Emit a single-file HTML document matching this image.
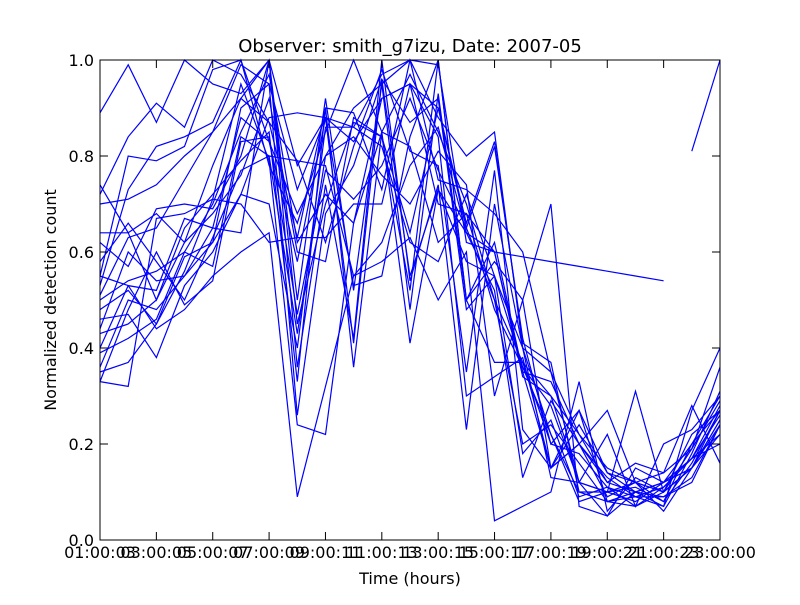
<!DOCTYPE html>
<html><head><meta charset="utf-8"><style>
body{margin:0;background:#fff;font-family:"Liberation Sans","DejaVu Sans",sans-serif}
svg text{font-family:"DejaVu Sans","Liberation Sans",sans-serif}
</style></head><body>
<svg id="chart" width="800" height="600" viewBox="0 0 800 600">
<rect width="800" height="600" fill="#fff"/>
<text x="410" y="52" font-size="18" text-anchor="middle">Observer: smith_g7izu, Date: 2007-05</text>
<g id="series"></g>
<rect x="100" y="60" width="620" height="480" fill="none" stroke="#000" stroke-width="1"/>
<g id="axes"></g>
<text x="410" y="584" font-size="16" text-anchor="middle">Time (hours)</text>
<text transform="translate(56,300) rotate(-90)" font-size="16" text-anchor="middle">Normalized detection count</text>
</svg>
<script>
const hours = [1,2,3,4,5,6,7,8,9,10,11,12,13,14,15,16,17,18,19,20,21,22,23];
const xTickHours = [1,3,5,7,9,11,13,15,17,19,21,23];
const xTickLabels = ["01:00:03","03:00:05","05:00:07","07:00:09","09:00:11","11:00:13","13:00:15","15:00:17","17:00:19","19:00:21","21:00:23","23:00:00"];
const yTicks = [0,0.2,0.4,0.6,0.8,1.0];
const yTickLabels = ["0.0","0.2","0.4","0.6","0.8","1.0"];
const s1 = [0.89,0.99,0.87,1.0,0.95,0.93,1.0,0.78,0.88,0.86,0.97,1.0,0.99,0.62,0.6,0.59,0.58,0.57,0.56,0.55,0.54,null,null];
const s2 = [0.72,0.84,0.91,0.86,1.0,0.97,0.87,0.63,0.9,0.89,0.73,1.0,0.88,0.8,0.85,0.4,0.35,0.12,0.1,0.12,0.08,0.16,0.27];
const s3 = [0.55,0.8,0.79,0.82,0.98,1.0,0.78,0.66,0.85,1.0,0.85,0.97,0.85,0.7,0.5,0.37,0.3,0.22,0.15,0.12,0.1,0.15,0.25];
const s4 = [0.53,0.73,0.82,0.84,0.87,1.0,0.83,0.68,0.8,0.9,0.95,1.0,0.75,0.73,0.68,0.6,0.35,0.22,0.12,0.1,0.09,0.13,0.24];
const s5 = [0.7,0.71,0.74,0.8,0.85,0.99,0.95,0.73,0.88,0.83,0.92,0.95,0.9,0.65,0.82,0.42,0.2,0.18,0.11,0.09,0.11,0.17,0.28];
const s6 = [0.64,0.64,0.68,0.62,0.78,0.92,1.0,0.5,0.92,0.52,0.95,0.48,0.93,0.5,0.58,0.5,0.15,0.24,0.14,0.1,0.12,0.2,0.3];
const s7 = [0.62,0.57,0.69,0.7,0.69,0.8,1.0,0.45,0.7,0.87,0.84,0.52,1.0,0.5,0.62,0.35,0.33,0.2,0.27,0.12,0.1,0.15,0.25];
const s8 = [0.5,0.54,0.56,0.6,0.7,0.85,0.97,0.62,0.72,0.66,0.85,0.82,0.62,0.68,0.48,0.36,0.28,0.12,0.1,0.08,0.12,0.17,0.26];
const s9 = [0.44,0.6,0.54,0.55,0.65,0.88,0.83,0.58,0.88,0.41,0.96,0.55,0.73,0.58,0.55,0.4,0.22,0.1,0.08,0.07,0.11,0.17,0.22];
const s10 = [0.4,0.53,0.52,0.67,0.65,0.64,1.0,0.36,0.74,0.42,1.0,0.54,0.74,0.23,0.7,0.4,0.13,0.12,0.05,0.15,0.12,0.17,0.2];
const s11 = [0.36,0.5,0.48,0.55,0.62,0.9,0.95,0.26,0.68,0.78,0.96,0.87,0.92,0.48,0.55,0.36,0.22,0.08,0.1,0.11,0.08,0.2,0.27];
const s12 = [0.33,0.32,0.67,0.68,0.71,0.95,0.79,0.24,0.22,0.66,0.92,0.95,0.7,0.68,0.6,0.35,0.15,0.2,0.13,0.09,0.09,0.12,0.24];
const s13 = [0.46,0.47,0.38,0.53,0.6,0.72,0.88,0.89,0.88,0.53,0.55,0.84,1.0,0.5,0.37,0.37,0.2,0.27,0.14,0.12,0.14,0.19,0.29];
const s14 = [0.55,0.53,0.44,0.48,0.55,0.6,0.64,0.09,0.32,0.55,0.58,0.63,0.5,0.6,0.04,0.07,0.1,0.33,0.06,0.13,0.1,0.22,0.27];
const s15 = [0.43,0.45,0.5,0.62,0.68,0.76,0.92,0.6,0.58,0.88,0.84,0.64,0.9,0.66,0.83,0.41,0.37,0.1,0.1,0.31,0.1,0.15,0.24];
const s16 = [0.48,0.52,0.45,0.56,0.71,0.7,0.62,0.63,0.63,0.7,0.7,0.95,0.84,0.3,0.34,0.38,0.15,0.27,0.08,0.1,0.12,0.15,0.27];
const s17 = [0.39,0.42,0.46,0.6,0.57,0.84,0.8,0.79,0.78,0.55,0.62,0.78,0.86,0.64,0.52,0.13,0.29,0.2,0.12,0.16,0.14,0.28,0.16];
const s18 = [0.58,0.66,0.58,0.5,0.63,0.77,0.8,0.43,0.8,0.84,0.76,0.7,0.81,0.74,0.3,0.5,0.7,0.07,0.05,0.1,0.07,0.27,0.4];
const s19 = [0.35,0.37,0.45,0.59,0.62,0.72,0.7,0.4,0.86,0.86,0.82,0.62,0.58,0.72,0.55,0.18,0.25,0.09,0.11,0.07,0.1,0.19,0.36];
const s20 = [0.33,0.48,0.6,0.49,0.54,0.83,0.84,0.47,0.77,0.71,0.78,0.92,0.77,0.65,0.5,0.2,0.24,0.16,0.08,0.09,0.07,0.18,0.31];
const s21 = [0.74,0.64,0.5,0.65,0.72,0.79,0.85,0.33,0.9,0.36,0.85,0.41,0.73,0.64,0.6,0.34,0.3,0.12,0.22,0.07,0.2,0.23,0.3];
const s22 = [0.51,0.63,0.65,0.75,0.85,0.92,0.87,0.79,0.62,0.82,0.98,0.81,0.78,0.35,0.77,0.23,0.15,0.2,0.09,0.12,0.06,0.15,0.22];
const s23 = [null,null,null,null,null,null,null,null,null,null,null,null,null,null,null,null,null,null,null,null,null,0.81,1.0];
const allSeries = [s1,s2,s3,s4,s5,s6,s7,s8,s9,s10,s11,s12,s13,s14,s15,s16,s17,s18,s19,s20,s21,s22,s23];

const X0=100,X1=720,Y0=540,Y1=60;
function xScale(h){return X0+(h-1)/(23-1)*(X1-X0);}
function yScale(v){return Y0-v*(Y0-Y1);}
const NS="http://www.w3.org/2000/svg";
const g=document.getElementById('series');
allSeries.forEach((s,i)=>{
  let d="",pen=false;
  s.forEach((v,j)=>{
    if(v===null){pen=false;return;}
    d+=(pen?"L":"M")+xScale(hours[j]).toFixed(1)+" "+yScale(v).toFixed(1)+" ";
    pen=true;
  });
  const p=document.createElementNS(NS,'path');
  p.setAttribute('d',d);
  p.setAttribute('fill','none');
  p.setAttribute('stroke','#0000ff');
  p.setAttribute('stroke-width','1.2');
  
  
  g.appendChild(p);
});
const ax=document.getElementById('axes');
xTickHours.forEach((h,i)=>{
  const x=xScale(h);
  const t1=document.createElementNS(NS,'path');
  t1.setAttribute('d',`M${x} 540 V532 M${x} 60 V68`);
  t1.setAttribute('stroke','#000');
  
  
  ax.appendChild(t1);
  const tx=document.createElementNS(NS,'text');
  tx.setAttribute('x',x);tx.setAttribute('y',558);
  tx.setAttribute('font-size','16');tx.setAttribute('text-anchor','middle');
  tx.textContent=xTickLabels[i];
  
  
  ax.appendChild(tx);
});
yTicks.forEach((v,i)=>{
  const y=yScale(v);
  const t1=document.createElementNS(NS,'path');
  t1.setAttribute('d',`M100 ${y} H108 M720 ${y} H712`);
  t1.setAttribute('stroke','#000');
  
  
  ax.appendChild(t1);
  const tx=document.createElementNS(NS,'text');
  tx.setAttribute('x',94);tx.setAttribute('y',y+6);
  tx.setAttribute('font-size','16');tx.setAttribute('text-anchor','end');
  tx.textContent=yTickLabels[i];
  
  
  ax.appendChild(tx);
});
</script>
</body></html>
